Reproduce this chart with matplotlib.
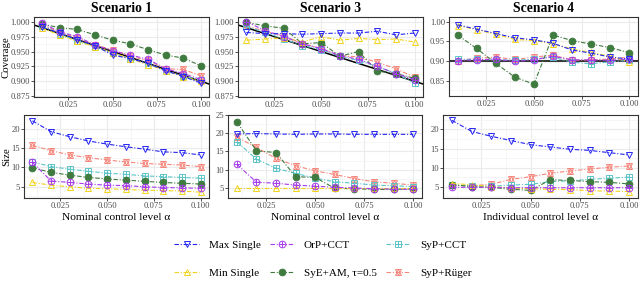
import matplotlib
matplotlib.use("Agg")
import matplotlib.pyplot as plt
from matplotlib.ticker import MultipleLocator, FormatStrFormatter, FixedLocator
from matplotlib.legend_handler import HandlerTuple

plt.rcParams['font.family'] = ['Liberation Serif', 'DejaVu Serif']

alpha_levels = [0.01, 0.02, 0.03, 0.04, 0.05, 0.06, 0.07, 0.08, 0.09, 0.10]
methods = ["Max Single", "Min Single", "OrP+CCT", "SyE+AM, τ=0.5", "SyP+CCT", "SyP+Rüger"]
scenario_titles = ["Scenario 1", "Scenario 3", "Scenario 4"]
x_titles = ["Nominal control level α", "Nominal control level α", "Individual control level α"]
x_ticks = [0.025, 0.050, 0.075, 0.100]

cov_s1 = {
    "Max Single":    [0.991, 0.981, 0.970, 0.960, 0.944, 0.938, 0.930, 0.918, 0.908, 0.897],
    "Min Single":    [0.989, 0.978, 0.967, 0.958, 0.948, 0.938, 0.928, 0.918, 0.908, 0.900],
    "OrP+CCT":       [0.998, 0.983, 0.975, 0.961, 0.951, 0.944, 0.937, 0.921, 0.913, 0.903],
    "SyE+AM, τ=0.5": [0.996, 0.990, 0.987, 0.978, 0.969, 0.963, 0.953, 0.944, 0.939, 0.926],
    "SyP+CCT":       [0.993, 0.980, 0.968, 0.958, 0.947, 0.938, 0.930, 0.917, 0.909, 0.902],
    "SyP+Rüger":     [0.995, 0.982, 0.973, 0.961, 0.953, 0.942, 0.935, 0.921, 0.920, 0.909],
}
cov_s3 = {
    "Max Single":    [0.982, 0.980, 0.980, 0.979, 0.980, 0.981, 0.981, 0.984, 0.978, 0.981],
    "Min Single":    [0.969, 0.971, 0.973, 0.966, 0.975, 0.969, 0.972, 0.970, 0.971, 0.966],
    "OrP+CCT":       [1.000, 0.985, 0.975, 0.963, 0.955, 0.943, 0.937, 0.925, 0.913, 0.903],
    "SyE+AM, τ=0.5": [0.999, 0.993, 0.989, 0.963, 0.965, 0.942, 0.950, 0.917, 0.913, 0.905],
    "SyP+CCT":       [0.992, 0.982, 0.971, 0.960, 0.953, 0.942, 0.935, 0.925, 0.913, 0.897],
    "SyP+Rüger":     [0.993, 0.984, 0.976, 0.963, 0.955, 0.943, 0.941, 0.932, 0.921, 0.907],
}
cov_s4 = {
    "Max Single":    [0.992, 0.981, 0.970, 0.959, 0.954, 0.945, 0.928, 0.920, 0.910, 0.905],
    "Min Single":    [0.990, 0.980, 0.968, 0.955, 0.952, 0.944, 0.930, 0.922, 0.912, 0.897],
    "OrP+CCT":       [0.901, 0.903, 0.905, 0.899, 0.903, 0.912, 0.903, 0.903, 0.902, 0.905],
    "SyE+AM, τ=0.5": [0.966, 0.932, 0.894, 0.859, 0.841, 0.966, 0.952, 0.943, 0.934, 0.921],
    "SyP+CCT":       [0.905, 0.904, 0.903, 0.902, 0.905, 0.910, 0.897, 0.893, 0.898, 0.902],
    "SyP+Rüger":     [0.901, 0.907, 0.910, 0.904, 0.910, 0.915, 0.902, 0.903, 0.905, 0.910],
}

size_s1 = {
    "Max Single":    [22.0, 19.2, 17.9, 16.8, 16.0, 15.3, 14.7, 14.0, 13.8, 13.2],
    "Min Single":    [6.1, 5.4, 5.0, 4.6, 4.5, 4.3, 4.1, 4.0, 3.9, 3.6],
    "OrP+CCT":       [11.3, 6.5, 6.1, 5.7, 5.4, 5.3, 5.0, 4.8, 4.7, 4.6],
    "SyE+AM, τ=0.5": [9.9, 8.7, 8.0, 7.4, 7.0, 6.7, 6.4, 6.1, 5.9, 5.7],
    "SyP+CCT":       [11.4, 10.2, 9.5, 9.0, 8.5, 8.2, 7.8, 7.6, 7.4, 7.2],
    "SyP+Rüger":     [15.7, 14.3, 13.2, 12.5, 11.9, 11.4, 11.0, 10.8, 10.6, 10.2],
}
size_s3 = {
    "Max Single":    [19.8, 19.9, 19.8, 19.7, 19.8, 19.8, 19.7, 19.7, 19.7, 19.7],
    "Min Single":    [4.9, 4.9, 4.9, 4.9, 4.9, 4.9, 4.9, 4.9, 4.9, 4.9],
    "OrP+CCT":       [11.5, 6.6, 6.3, 5.8, 5.5, 5.2, 5.0, 4.8, 4.7, 4.6],
    "SyE+AM, τ=0.5": [23.1, 15.2, 14.7, 8.1, 7.9, 4.9, 4.8, 4.6, 4.6, 4.8],
    "SyP+CCT":       [17.7, 12.9, 10.4, 9.0, 7.7, 6.7, 6.3, 5.8, 5.6, 5.4],
    "SyP+Rüger":     [19.0, 16.1, 13.1, 11.1, 9.7, 8.7, 7.6, 6.7, 6.3, 5.8],
}
size_s4 = {
    "Max Single":    [22.4, 19.5, 18.2, 17.1, 16.0, 15.4, 14.8, 14.5, 13.9, 13.3],
    "Min Single":    [5.8, 5.5, 5.0, 4.6, 4.4, 4.3, 4.2, 3.9, 3.8, 3.7],
    "OrP+CCT":       [4.8, 4.8, 4.8, 4.7, 4.7, 4.7, 4.7, 4.7, 4.7, 4.7],
    "SyE+AM, τ=0.5": [5.5, 5.0, 4.8, 4.3, 4.0, 6.8, 6.6, 6.3, 6.1, 5.7],
    "SyP+CCT":       [5.4, 5.2, 5.1, 5.4, 5.6, 6.3, 6.5, 6.9, 7.2, 7.5],
    "SyP+Rüger":     [5.3, 5.2, 5.6, 6.9, 7.6, 8.5, 9.1, 9.6, 10.1, 10.4],
}

colors = {
    "Max Single": "#2626F2",
    "Min Single": "#F2D31B",
    "OrP+CCT": "#A63BEB",
    "SyE+AM, τ=0.5": "#3F7A3F",
    "SyP+CCT": "#5CC4C8",
    "SyP+Rüger": "#F5867B",
}
markers = {
    "Max Single": ['v'],
    "Min Single": ['^'],
    "OrP+CCT": ['o', '+'],
    "SyE+AM, τ=0.5": ['o'],
    "SyP+CCT": ['s', '+'],
    "SyP+Rüger": ['^', 'v'],
}
draw_order = ["SyP+Rüger", "SyP+CCT", "SyE+AM, τ=0.5", "Min Single", "OrP+CCT", "Max Single"]
dash = (0, (4, 1.6, 1, 1.6))

W, H = 640, 282
fig = plt.figure(figsize=(W / 100, H / 100), dpi=100)


def px_axes(l, t, r, b):
    return fig.add_axes([l / W, 1 - b / H, (r - l) / W, (b - t) / H])


def style(ax):
    ax.set_facecolor('white')
    for s in ax.spines.values():
        s.set_color('#333333')
        s.set_linewidth(0.8)
    ax.tick_params(which='major', length=2.0, width=0.6, color='#333333',
                   labelsize=6.2, labelcolor='#4D4D4D', pad=0.9)
    ax.tick_params(which='minor', length=0)
    ax.grid(which='major', color='#EBEBEB', lw=0.8)
    ax.grid(which='minor', color='#F3F3F3', lw=0.5)
    ax.set_axisbelow(True)
    ax.set_xlim(0.0055, 0.1045)
    ax.xaxis.set_major_locator(FixedLocator(x_ticks))
    ax.xaxis.set_minor_locator(MultipleLocator(0.0125))
    ax.xaxis.set_major_formatter(FormatStrFormatter('%.3f'))


def draw(ax, data):
    handles = {}
    for m in draw_order:
        parts = []
        for i, mk in enumerate(markers[m]):
            filled = (m == "SyE+AM, τ=0.5")
            h, = ax.plot(alpha_levels, data[m], color=colors[m],
                         linestyle=dash if i == 0 else 'none', lw=0.8,
                         marker=mk, ms=4.8 if mk != 's' else 4.2,
                         mfc=colors[m] if filled else 'none',
                         mec=colors[m], mew=0.7)
            parts.append(h)
        handles[m] = tuple(parts)
    return handles


top_boxes = [(34, 17, 209, 97), (238, 17, 423, 97), (449, 17, 638, 96)]
bot_boxes = [(24, 115, 209, 198), (228, 115, 422, 198), (443, 115, 638, 198)]
cov_data = [cov_s1, cov_s3, cov_s4]
size_data = [size_s1, size_s3, size_s4]
top_ylims = [(0.8737, 1.0079), (0.8737, 1.0079), (0.811, 1.012)]
bot_ylims = [(2.1, 23.5), (2.26, 25.0), (2.0, 23.8)]

handles = None
for k in range(3):
    ax = px_axes(*top_boxes[k])
    style(ax)
    if k < 2:
        ax.axline((0, 1), slope=-1, color='black', lw=1.1, zorder=1.5)
        ax.yaxis.set_major_locator(MultipleLocator(0.025))
        ax.yaxis.set_minor_locator(MultipleLocator(0.0125))
        ax.yaxis.set_major_formatter(FormatStrFormatter('%.3f'))
    else:
        ax.axhline(0.9, color='#3A3A3A', lw=1.5, zorder=1.5)
        ax.yaxis.set_major_locator(MultipleLocator(0.05))
        ax.yaxis.set_minor_locator(MultipleLocator(0.025))
        ax.yaxis.set_major_formatter(FormatStrFormatter('%.2f'))
    handles = draw(ax, cov_data[k])
    ax.set_ylim(*top_ylims[k])
    ax.set_title(scenario_titles[k], fontsize=9.8, fontweight='bold', pad=3.5)
    if k == 0:
        ax.set_ylabel("Coverage", fontsize=7.8)
        l, t, r, b = top_boxes[k]
        ax.yaxis.set_label_coords((11 - l) / (r - l), 0.5)

    axb = px_axes(*bot_boxes[k])
    style(axb)
    axb.yaxis.set_major_locator(MultipleLocator(5))
    axb.yaxis.set_minor_locator(MultipleLocator(2.5))
    draw(axb, size_data[k])
    axb.set_ylim(*bot_ylims[k])
    axb.set_xlabel(x_titles[k], fontsize=8.2, labelpad=2)
    if k == 0:
        axb.set_ylabel("Size", fontsize=7.8)
        l, t, r, b = bot_boxes[k]
        axb.yaxis.set_label_coords((11 - l) / (r - l), 0.5)

fig.legend([handles[m] for m in methods], methods, ncol=3, loc='center',
           bbox_to_anchor=(323 / W, 1 - 259 / H), frameon=False, fontsize=8,
           handlelength=2.2, handletextpad=0.9, columnspacing=0.8,
           labelspacing=1.6, borderpad=0.2,
           handler_map={tuple: HandlerTuple(ndivide=1)})

fig.savefig("out.png", dpi=100, facecolor='white')
